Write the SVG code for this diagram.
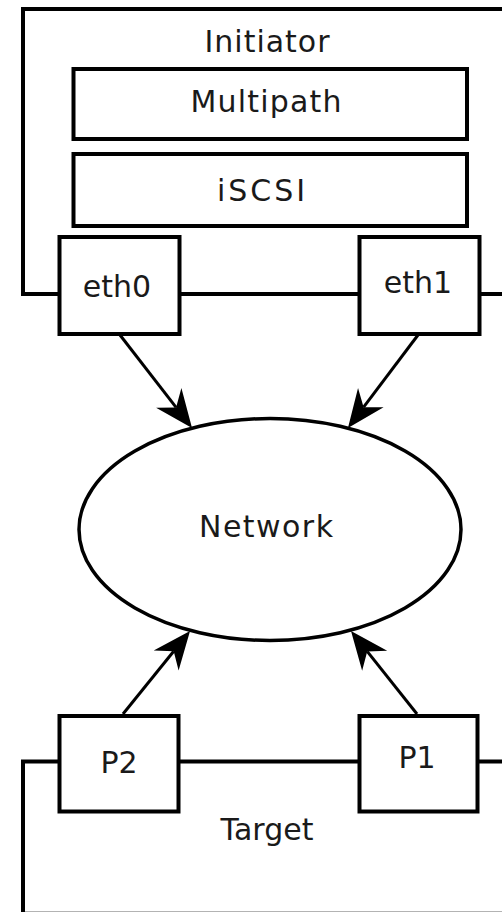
<svg xmlns="http://www.w3.org/2000/svg" width="502" height="912" viewBox="0 0 502 912">
  <style>
    .box { fill: #ffffff; stroke: #000000; stroke-width: 4; }
    .frame { fill: none; stroke: #000000; stroke-width: 4; }
    .link { fill: none; stroke: #000000; stroke-width: 3; }
    .lbl { font-family: "DejaVu Sans", "Liberation Sans", sans-serif; font-size: 30px; fill: #1a1a1a; text-anchor: middle; }
  </style>
  <defs>
    <marker id="barb" markerUnits="userSpaceOnUse" viewBox="-40 -18 42 36" markerWidth="42" markerHeight="36" refX="-26" refY="0" orient="auto">
      <path d="M0,0 L-38,-16 L-26,0 L-38,16 Z" fill="#000000"/>
    </marker>
  </defs>
  <rect width="502" height="912" fill="#ffffff"/>

  <!-- Initiator host -->
  <g id="initiator">
    <rect class="frame" x="23" y="9" width="500" height="285"/>
    <text class="lbl" x="267" y="52" textLength="125">Initiator</text>
  </g>
  <g id="multipath">
    <rect class="box" x="73.5" y="69" width="393.5" height="70"/>
    <text class="lbl" x="266" y="112" textLength="151">Multipath</text>
  </g>
  <g id="iscsi">
    <rect class="box" x="73.5" y="154" width="393.5" height="72"/>
    <text class="lbl" x="261" y="201" textLength="88">iSCSI</text>
  </g>
  <g id="eth0">
    <rect class="box" x="59.5" y="237" width="120" height="97"/>
    <text class="lbl" x="117" y="297">eth0</text>
  </g>
  <g id="eth1">
    <rect class="box" x="359.5" y="237" width="120" height="97"/>
    <text class="lbl" x="418" y="293">eth1</text>
  </g>

  <!-- Network -->
  <g id="network">
    <ellipse cx="270" cy="529.5" rx="191" ry="111" fill="#ffffff" stroke="#000000" stroke-width="3.5"/>
    <text class="lbl" x="266" y="537" textLength="134">Network</text>
  </g>

  <!-- Target host (lower edge runs off the bottom) -->
  <g id="target">
    <rect class="frame" x="23" y="761.5" width="500" height="152.2"/>
    <text class="lbl" x="267" y="840">Target</text>
  </g>
  <g id="p2">
    <rect class="box" x="59.5" y="716" width="119" height="95.5"/>
    <text class="lbl" x="119" y="773">P2</text>
  </g>
  <g id="p1">
    <rect class="box" x="359.5" y="716" width="118" height="95.5"/>
    <text class="lbl" x="417" y="768">P1</text>
  </g>

  <!-- Connectors -->
  <g id="connectors">
    <line class="link" x1="120" y1="335" x2="176.1" y2="407.4" marker-end="url(#barb)"/>
    <line class="link" x1="418" y1="335" x2="363.6" y2="407.2" marker-end="url(#barb)"/>
    <line class="link" x1="123" y1="714" x2="173.7" y2="651.2" marker-end="url(#barb)"/>
    <line class="link" x1="417" y1="714" x2="367.2" y2="651.4" marker-end="url(#barb)"/>
  </g>
</svg>
